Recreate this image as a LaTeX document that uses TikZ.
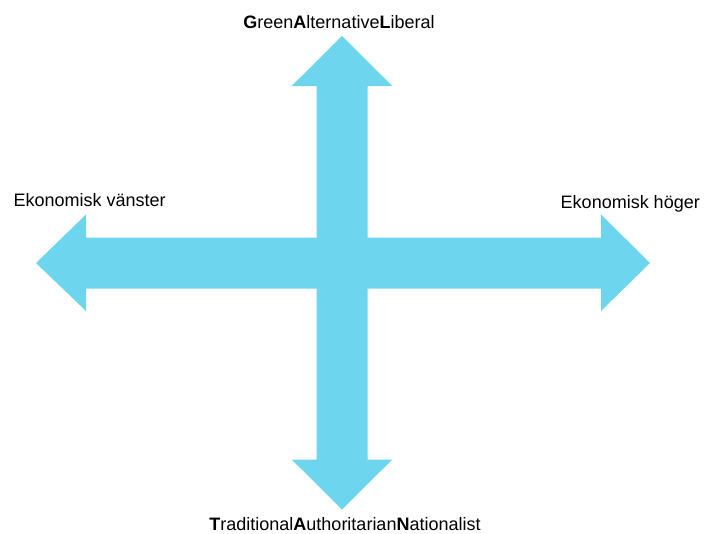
\documentclass[tikz,border=0pt]{standalone}
\usepackage{fontspec}
\setmainfont{Liberation Sans}
\definecolor{arrowblue}{RGB}{109,213,237}
\begin{document}
\begin{tikzpicture}[x=1pt,y=-1pt,
  arr/.style={fill=arrowblue,draw=none},
  lbl/.style={inner sep=0pt,font=\fontsize{18}{20}\selectfont,anchor=base}]
\useasboundingbox (0,0) rectangle (706,533);
% horizontal double arrow
\path[arr] (36,263) -- (86,214.5) -- (86,237.5) -- (601,237.5) -- (601,214.5) -- (650,263)
  -- (601,311) -- (601,288.5) -- (86,288.5) -- (86,311) -- cycle;
% vertical double arrow
\path[arr] (342,36) -- (392.3,86) -- (367.5,86) -- (367.5,459.5) -- (392.3,459.5) -- (342,509.5)
  -- (291.7,459.5) -- (316.5,459.5) -- (316.5,86) -- (291.7,86) -- cycle;
\node[lbl] (gal) at (339,28.3) {\textbf{G}reen\textbf{A}lternative\textbf{L}iberal};
\node[lbl,anchor=base west] (left) at (13.5,206.3) {Ekonomisk vänster};
\node[lbl,anchor=base east] (right) at (700,208) {Ekonomisk höger};
\node[lbl] (tan) at (345,530.5) {\textbf{T}raditional\textbf{A}uthoritarian\textbf{N}ationalist};
\end{tikzpicture}
\end{document}
